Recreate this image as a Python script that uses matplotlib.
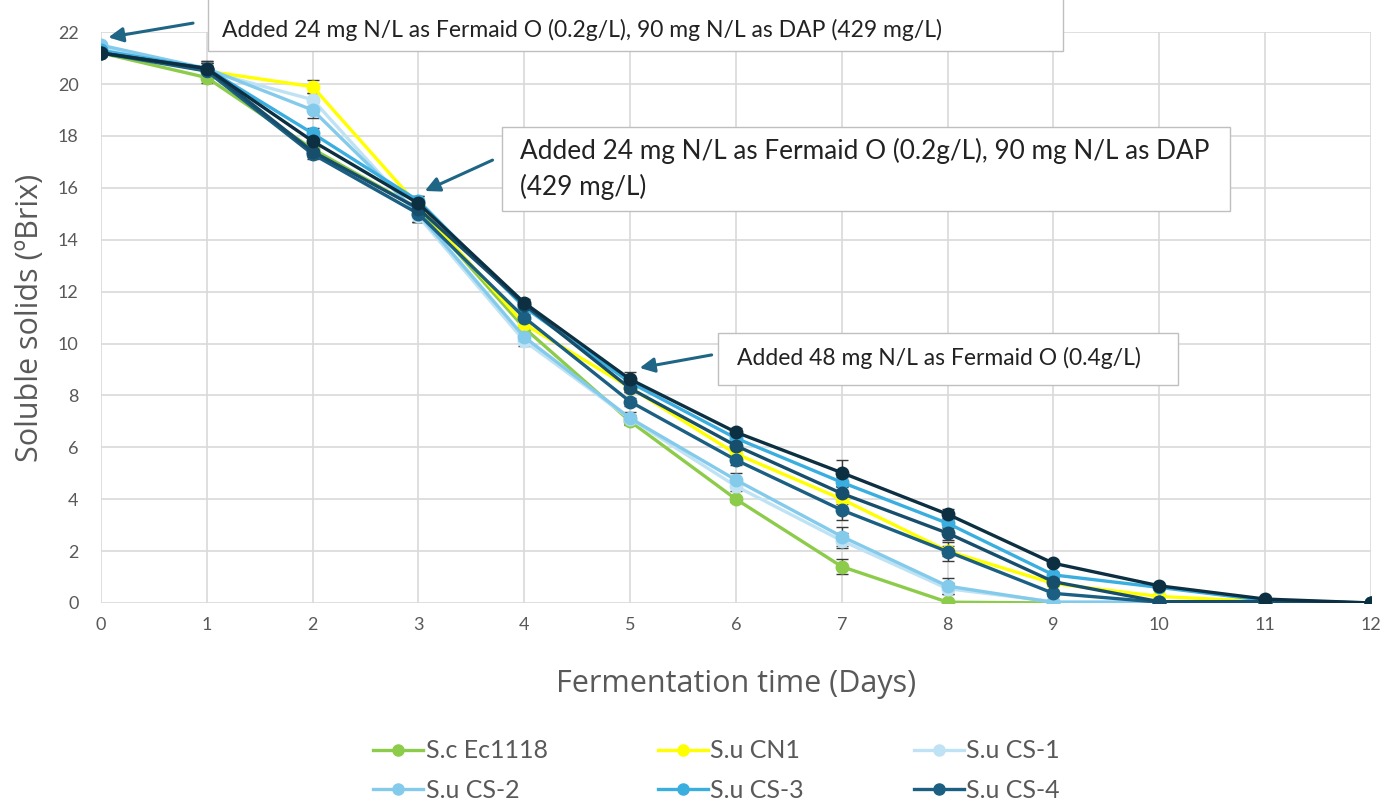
import matplotlib.pyplot as plt
from matplotlib.lines import Line2D
from matplotlib.patches import Rectangle

# Data: soluble solids (ºBrix) by fermentation day
days = [0, 1, 2, 3, 4, 5, 6, 7, 8, 9, 10, 11, 12]

sc_ec1118 = [21.2, 20.25, 17.5, 15.2, 10.6, 7.0, 4.0, 1.4, 0.03, 0.0, 0.0, 0.0, 0.0]
su_cn1 = [21.3, 20.5, 19.9, 15.3, 10.75, 8.3, 5.75, 4.0, 2.0, 0.75, 0.25, 0.05, 0.0]
su_cs1 = [21.4, 20.5, 19.4, 14.9, 10.1, 7.1, 4.5, 2.4, 0.55, 0.05, 0.05, 0.05, 0.0]
su_cs2 = [21.5, 20.6, 19.0, 15.0, 10.25, 7.12, 4.74, 2.56, 0.65, 0.02, 0.02, 0.02, 0.0]
su_cs3 = [21.3, 20.6, 18.1, 15.5, 11.4, 8.5, 6.35, 4.65, 3.07, 1.08, 0.6, 0.1, 0.0]
su_cs4 = [21.2, 20.5, 17.3, 15.0, 11.0, 7.76, 5.51, 3.58, 1.98, 0.37, 0.03, 0.05, 0.0]
unlabeled_1 = [21.2, 20.6, 17.4, 15.2, 11.5, 8.27, 6.06, 4.22, 2.69, 0.82, 0.05, 0.05, 0.0]
unlabeled_2 = [21.2, 20.6, 17.8, 15.4, 11.57, 8.62, 6.58, 5.02, 3.42, 1.53, 0.66, 0.15, 0.0]

# Standard deviations
err_ec1118 = [0.1, 0.2, 0.2, 0.2, 0.15, 0.1, 0.1, 0.3, 0.05, 0.0, 0.0, 0.0, 0.0]
err_cn1 = [0.1, 0.2, 0.25, 0.2, 0.15, 0.15, 0.15, 0.2, 0.2, 0.1, 0.05, 0.0, 0.0]
err_cs1 = [0.1, 0.2, 0.25, 0.2, 0.2, 0.15, 0.2, 0.3, 0.2, 0.05, 0.0, 0.0, 0.0]
err_cs2 = [0.1, 0.2, 0.3, 0.3, 0.2, 0.25, 0.25, 0.35, 0.3, 0.05, 0.0, 0.0, 0.0]
err_cs3 = [0.1, 0.2, 0.2, 0.2, 0.15, 0.15, 0.15, 0.2, 0.2, 0.1, 0.05, 0.0, 0.0]
err_cs4 = [0.1, 0.3, 0.2, 0.3, 0.15, 0.15, 0.2, 0.4, 0.35, 0.1, 0.05, 0.0, 0.0]
err_u1 = [0.1, 0.3, 0.2, 0.2, 0.15, 0.15, 0.2, 0.3, 0.25, 0.1, 0.05, 0.0, 0.0]
err_u2 = [0.1, 0.3, 0.2, 0.3, 0.15, 0.3, 0.15, 0.5, 0.2, 0.1, 0.05, 0.0, 0.0]

labels = ['S.c Ec1118', 'S.u CN1', 'S.u CS-1', 'S.u CS-2', 'S.u CS-3', 'S.u CS-4', None, None]
series = [sc_ec1118, su_cn1, su_cs1, su_cs2, su_cs3, su_cs4, unlabeled_1, unlabeled_2]
errors = [err_ec1118, err_cn1, err_cs1, err_cs2, err_cs3, err_cs4, err_u1, err_u2]
colors = ['#8DCB4A', '#FFFF00', '#BFE3F4', '#84CBEB', '#3BAEE0', '#1B5F82', '#164E6B', '#0C2F42']

plt.rcParams['font.family'] = ['Lato', 'DejaVu Sans']

fig = plt.figure(figsize=(13.83, 8.05), dpi=100)
ax = fig.add_axes([0.073, 0.251, 0.9183, 0.709])

for vals, err, col in zip(series, errors, colors):
    ax.errorbar(days, vals, yerr=err, color=col, lw=2.4, marker='o', markersize=9,
                ecolor='#3A3A3A', elinewidth=1.0, capsize=4, capthick=1.0, zorder=3)

ax.set_xlim(0, 12)
ax.set_ylim(0, 22)
ax.set_xticks(range(0, 13))
ax.set_yticks(range(0, 23, 2))
ax.grid(True, color='#D9D9D9', lw=1.2)
ax.set_axisbelow(True)
for s in ax.spines.values():
    s.set_visible(False)
ax.tick_params(length=0, labelsize=13, labelcolor='#595959')
ax.tick_params(axis='y', pad=16)
ax.tick_params(axis='x', pad=10)

ax.set_xlabel('Fermentation time (Days)', fontsize=22, color='#595959',
              family=['Open Sans', 'DejaVu Sans'], labelpad=26)
ax.set_ylabel('Soluble solids (ºBrix)', fontsize=22, color='#595959',
              family=['Open Sans', 'DejaVu Sans'], labelpad=9)

# Nutrient addition notes
arrow_col = '#1F6585'
notes = [
    # box (x0, y0, x1, y1), text position, text, arrow tail, arrow tip, fontsize
    ((1.01, 21.27, 9.09, 24.0), (1.14, 22.08),
     'Added 24 mg N/L as Fermaid O (0.2g/L), 90 mg N/L as DAP (429 mg/L)',
     (0.87, 22.35), (0.07, 21.8), 16.5),
    ((3.79, 15.1, 10.67, 18.34), (3.96, 16.72),
     'Added 24 mg N/L as Fermaid O (0.2g/L), 90 mg N/L as DAP\n(429 mg/L)',
     (3.70, 17.07), (3.06, 15.88), 18.8),
    ((5.83, 8.40, 10.18, 10.40), (6.01, 9.44),
     'Added 48 mg N/L as Fermaid O (0.4g/L)',
     (5.77, 9.56), (5.09, 9.06), 16.5),
]
for (x0, y0, x1, y1), (tx, ty), txt, tail, tip, fs in notes:
    ax.add_patch(Rectangle((x0, y0), x1 - x0, y1 - y0, facecolor='white',
                           edgecolor='#BFBFBF', lw=1.0, clip_on=False, zorder=5))
    ax.text(tx, ty, txt, fontsize=fs, color='#222222', va='center', ha='left',
            linespacing=1.45, zorder=6, clip_on=False)
    ax.annotate('', xy=tip, xytext=tail, annotation_clip=False, zorder=6,
                arrowprops=dict(arrowstyle='-|>', color=arrow_col, lw=2.2,
                                mutation_scale=22, shrinkA=0, shrinkB=0))

# Legend filled row by row: matplotlib fills columns, so interleave
handles = [Line2D([0], [0], color=c, lw=2.4, marker='o', markersize=8)
           for c in colors[:6]]
order = [0, 3, 1, 4, 2, 5]
leg = fig.legend([handles[i] for i in order], [labels[i] for i in order],
                 ncol=3, loc='center', bbox_to_anchor=(0.518, 0.043),
                 frameon=False, handlelength=2.0, handletextpad=0.1,
                 columnspacing=4.4, labelspacing=0.65,
                 prop={'family': ['Lato', 'DejaVu Sans'], 'size': 18})
for t in leg.get_texts():
    t.set_color('#595959')

fig.savefig('out.png', dpi=100)
